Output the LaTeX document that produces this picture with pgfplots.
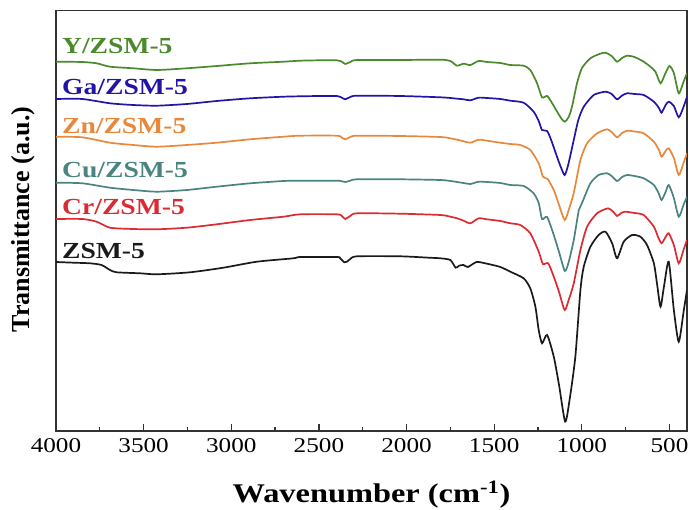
\documentclass[border=0pt]{standalone}
\usepackage{fontspec}
\setmainfont{Liberation Serif}[FakeStretch=1.2]
\newfontfamily\ylfont{Liberation Serif}
\usepackage{pgfplots}
\pgfplotsset{compat=1.18}
\definecolor{cY}{HTML}{4A8A2C}
\definecolor{cGa}{HTML}{2314A8}
\definecolor{cZn}{HTML}{E8883C}
\definecolor{cCu}{HTML}{4A8480}
\definecolor{cCr}{HTML}{DC2A32}
\definecolor{cZ}{HTML}{1A1A1A}
\begin{document}
\begin{tikzpicture}
\begin{axis}[
  scale only axis, width=631pt, height=420.3pt,
  xmin=400, xmax=4000, x dir=reverse,
  ymin=10.7, ymax=431, y dir=reverse,
  ytick=\empty,
  xtick={500,1000,...,4000},
  minor x tick num=1,
  xtick pos=bottom,
  xtick align=inside,
  major tick length=7pt, minor tick length=3.5pt,
  axis line style={line width=1.3pt, black!80},
  xtick style={draw=black!80, line width=1.3pt},
  tick label style={font=\fontsize{21}{21}\selectfont},
  xticklabel style={anchor=base, yshift=-22pt},
  /pgf/number format/assume math mode=true,
  /pgf/number format/set thousands separator={},
  xlabel={\bfseries Wavenumber (cm\textsuperscript{-1})},
  xlabel style={font=\fontsize{27}{27}\selectfont, at={(axis description cs:0.5,-0.171)}, anchor=base},
  ylabel={\ylfont\bfseries Transmittance (a.u.)},
  ylabel style={font=\fontsize{26}{26}\selectfont, at={(axis description cs:-0.0518,0.503)}, anchor=center},
  every axis plot/.append style={line width=1.7pt, smooth, tension=0.4},
]
% Y/ZSM-5
\addplot[cY] coordinates {
(4000,61.7)(3850,62)(3768,63.3)(3692,66.7)(3559,68.3)(3425,70)(3254,68.3)(3083,66)(2892,63.3)(2702,61.7)(2607,60.7)(2493,60.3)(2398,60.3)(2369,61.7)(2350,64)(2321,62)(2283,60)(2036,60)(1807,59.7)(1750,61)(1712,65.7)(1675,63.7)(1636,65)(1589,61)(1541,62)(1465,63)(1408,65)(1332,65.7)(1294,70)(1256,83)(1227,97.3)(1198,96)(1170,103)(1141,111.7)(1115,119)(1096,121.7)(1075,117)(1056,106.7)(1027,83)(999,68)(951,58.3)(900,54)(865,52.7)(830,56)(799,61.7)(770,58)(742,55.7)(700,57)(647,61.7)(609,66.7)(580,71.7)(551,83.3)(525,74)(500,66)(475,73)(447,93.3)(420,82)(400,73)
};
% Ga/ZSM-5
\addplot[cGa] coordinates {
(4000,99)(3850,99)(3692,103.3)(3559,105)(3425,105.7)(3254,104)(3083,101)(2892,98.3)(2702,96.7)(2607,96.3)(2493,96)(2398,96)(2369,97.7)(2350,99.3)(2321,97)(2283,95.7)(2036,96)(1807,97.3)(1750,98)(1712,98.7)(1675,99.3)(1636,100.3)(1589,97.7)(1541,98)(1465,99)(1408,100.7)(1332,102.7)(1275,111.7)(1246,121)(1227,130)(1198,131)(1175,140)(1141,157)(1120,167)(1098,175)(1078,165)(1046,140)(1020,120)(989,106.7)(932,95)(865,91.7)(830,94)(799,99.3)(770,95.5)(742,93.3)(700,94)(647,95)(589,101.7)(560,108)(545,112.7)(522,105)(504,101.7)(475,106)(447,117.3)(420,107)(400,96.7)
};
% Zn/ZSM-5
\addplot[cZn] coordinates {
(4000,136.7)(3850,137.3)(3692,142.7)(3559,145)(3425,146.7)(3254,145)(3083,142.7)(2892,139.3)(2702,136.7)(2607,135.7)(2398,135.7)(2369,137.7)(2350,139.3)(2321,137)(2283,135.7)(2036,136)(1807,137)(1750,138.3)(1712,139.7)(1675,141.3)(1636,142.7)(1589,139.7)(1541,140.7)(1465,142.7)(1408,144)(1351,145)(1294,150)(1246,163.3)(1222,176.7)(1195,179)(1160,190)(1130,205)(1098,220)(1075,210)(1046,193)(1008,160)(970,143.3)(913,133.3)(856,129.3)(830,132)(799,137.3)(770,133)(742,130.7)(700,131.5)(647,133.3)(589,141.7)(560,150)(545,156.7)(522,151)(504,148.3)(475,158)(447,175)(420,163)(400,153.3)
};
% Cu/ZSM-5
\addplot[cCu] coordinates {
(4000,182.7)(3850,183.3)(3692,187.7)(3559,190)(3425,191.7)(3254,190)(3083,186.7)(2892,183.3)(2702,181)(2607,180.7)(2398,180.7)(2369,181.3)(2350,182)(2321,180.7)(2283,179.3)(2036,179.3)(1807,180)(1750,181)(1712,182)(1675,183)(1636,184)(1589,181.7)(1541,182)(1465,183)(1408,185)(1332,186)(1275,193.3)(1246,203)(1227,219)(1198,217)(1160,235)(1130,252)(1097,271)(1075,262)(1046,240)(1017,210)(999,203)(951,183.3)(904,175)(856,173.3)(830,176)(799,181)(770,177)(742,175)(700,176)(647,178.3)(589,185)(560,194)(545,200)(522,192)(504,185)(475,198)(447,216.7)(420,205)(400,196.7)
};
% Cr/ZSM-5
\addplot[cCr] coordinates {
(4000,219)(3850,219)(3768,221.7)(3692,227.7)(3559,229)(3425,229.3)(3254,227.7)(3083,224.3)(2892,220)(2702,216.7)(2607,214.3)(2398,214.3)(2369,216)(2350,219)(2321,216)(2283,213.3)(2036,213.7)(1807,215)(1750,216.7)(1712,218.3)(1675,220.7)(1636,223.3)(1589,218.3)(1541,219.3)(1465,221)(1408,223.3)(1351,225)(1294,233.3)(1246,251.7)(1222,264)(1192,263.3)(1160,276.7)(1130,292)(1098,310)(1075,300)(1046,283.3)(1008,250)(970,226.7)(913,213.3)(850,208.3)(820,212)(799,216)(775,213)(752,211.7)(700,213)(647,215)(589,226.7)(565,237)(545,243.3)(522,237)(504,233.3)(475,245)(447,263.3)(420,250)(400,240)
};
% ZSM-5
\addplot[cZ] coordinates {
(4000,262)(3900,262.7)(3806,263.3)(3740,265)(3692,270)(3654,272.3)(3520,273.3)(3425,274.3)(3235,272.3)(3045,267.7)(2854,261.7)(2645,258.3)(2607,257)(2398,257)(2380,258)(2369,260)(2355,262.3)(2340,261.7)(2321,259)(2283,256.3)(2036,256.3)(1873,257.7)(1807,258.3)(1750,260)(1720,267.7)(1700,265.7)(1675,265)(1650,267)(1600,262)(1541,263.7)(1465,267)(1408,271.7)(1332,278.3)(1294,288.3)(1265,306.7)(1246,330)(1227,343.3)(1198,335)(1160,356.7)(1130,385)(1095,421.7)(1070,400)(1037,356.7)(1008,290)(989,266.7)(951,246.7)(904,235)(865,231.7)(827,243.3)(799,258.3)(761,241.7)(713,235)(666,236.7)(628,245)(589,263.3)(570,285)(551,306.7)(530,285)(504,261.7)(475,310)(447,341.7)(418,310)(400,290)
};
\begin{scope}[font=\fontsize{23}{23}\selectfont\bfseries]
\node[anchor=base west, text=cY, inner sep=0pt] at (axis cs:3966,53.3) {Y/ZSM-5};
\node[anchor=base west, text=cGa, inner sep=0pt] at (axis cs:3966,95) {Ga/ZSM-5};
\node[anchor=base west, text=cZn, inner sep=0pt] at (axis cs:3966,133.3) {Zn/ZSM-5};
\node[anchor=base west, text=cCu, inner sep=0pt] at (axis cs:3966,177.7) {Cu/ZSM-5};
\node[anchor=base west, text=cCr, inner sep=0pt] at (axis cs:3966,215) {Cr/ZSM-5};
\node[anchor=base west, text=cZ, inner sep=0pt] at (axis cs:3966,258.3) {ZSM-5};
\end{scope}
\end{axis}
\pgfresetboundingbox
\path ([xshift=-56pt,yshift=-79pt]current axis.south west) rectangle ([xshift=2pt,yshift=10.7pt]current axis.north east);
\end{tikzpicture}
\end{document}
